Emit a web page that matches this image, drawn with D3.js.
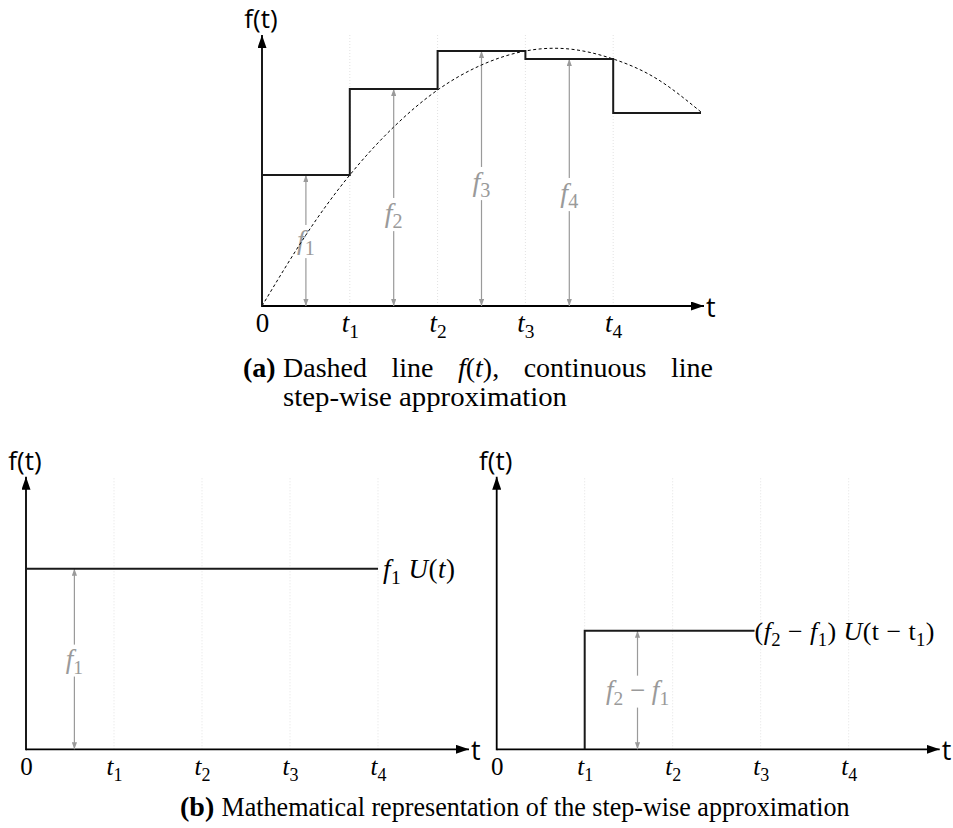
<!DOCTYPE html>
<html><head><meta charset="utf-8">
<script src="https://cdn.jsdelivr.net/npm/d3@7"></script>
<style>body{margin:0;background:#fff} svg{display:block}</style>
</head><body>
<svg id="c" width="953" height="828"></svg>
<script>
// ---------- data ----------
const tTicks = [0, 1, 2, 3, 4];
const tickLabels = ["0", "t_1", "t_2", "t_3", "t_4"];

// dashed curve f(t), read at half steps
const curveT = [0, 0.5, 1, 1.5, 2, 2.5, 3, 3.5, 4, 4.5, 5];
const curveF = [0, 0.71, 1.31, 1.79, 2.16, 2.41, 2.55, 2.57, 2.47, 2.27, 1.94];

// step-wise approximation (value holds until next t)
const stepT = [0, 1, 2, 3, 4, 5];
const stepF = [1.31, 2.17, 2.55, 2.47, 1.93, 1.93];

// grey measuring arrows in panel (a)
const arrowT = [0.5, 1.5, 2.5, 3.5];
const arrowF = [1.31, 2.17, 2.55, 2.47];
const arrowLabelF = [0.66, 0.93, 1.24, 1.13];
const arrowLabels = ["f_1", "f_2", "f_3", "f_4"];

// panel (b) left: f1 U(t)
const b1T = [0, 4];
const b1F = [1.31, 1.31];
const b1ArrowT = 0.55;
const b1ArrowF = 1.31;

// panel (b) right: (f2 - f1) U(t - t1)
const b2T = [1, 1, 2.93];
const b2F = [0, 0.86, 0.86];
const b2ArrowT = 1.6;
const b2ArrowF = 0.86;

// ---------- setup ----------
const svg = d3.select("#c");
const defs = svg.append("defs");
function marker(id, color, len, hw) {
  defs.append("marker").attr("id", id)
    .attr("viewBox", `0 ${-hw} ${len} ${2 * hw}`)
    .attr("refX", len).attr("refY", 0)
    .attr("markerWidth", len).attr("markerHeight", 2 * hw)
    .attr("markerUnits", "userSpaceOnUse")
    .attr("orient", "auto-start-reverse")
    .append("path").attr("d", `M0,${-hw}L${len},0L0,${hw}Z`).attr("fill", color);
}
marker("axArrow", "#000", 13, 4.5);
marker("gArrow", "#9a9a9a", 7, 2.6);

const SERIF = "'Liberation Serif', 'DejaVu Serif', serif";
const SANS = "'Open Sans', 'Noto Sans', sans-serif";
const GREY = "#9a9a9a";

// write math like "f_1" into a text selection
function mathText(sel, str, size) {
  sel.text(null);
  const parts = str.split("_");
  const base = parts[0];
  sel.append("tspan").attr("font-style", /^[0-9]/.test(base) ? "normal" : "italic").text(base);
  if (parts[1]) {
    sel.append("tspan").attr("font-style", "normal").attr("font-size", size * 0.72)
      .attr("dy", size * 0.22).text(parts[1]);
  }
}

// rich segments: [text, style] style: n normal, i italic, s subscript
function richText(sel, segs, size) {
  let shifted = false;
  segs.forEach(([txt, st]) => {
    const ts = sel.append("tspan").text(txt);
    if (st === "i") ts.attr("font-style", "italic");
    if (st === "s") {
      ts.attr("font-size", size * 0.72).attr("dy", size * 0.22);
      shifted = true;
    } else if (shifted) {
      ts.attr("dy", -size * 0.22);
      shifted = false;
    }
  });
}

function labelWithBg(g, x, yPos, str, size) {
  const t = g.append("text").attr("x", x).attr("y", yPos).attr("dy", "0.32em")
    .attr("text-anchor", "middle").attr("font-family", SERIF).attr("font-size", size)
    .attr("fill", GREY);
  if (Array.isArray(str)) richText(t, str, size); else mathText(t, str, size);
  const bb = t.node().getBBox();
  g.insert("rect", () => t.node()).attr("x", bb.x - 1).attr("y", bb.y + 1)
    .attr("width", bb.width + 2).attr("height", bb.height - 2).attr("fill", "#fff");
  return t;
}

function drawFrame(g, x, y, tickFont) {
  const y0 = y(0), yTop = y.range()[1];
  // faint grid
  g.append("g").selectAll("line").data(tTicks.filter(d => d > 0)).join("line")
    .attr("x1", d => x(d)).attr("x2", d => x(d))
    .attr("y1", y0).attr("y2", yTop)
    .attr("stroke", "#e2e2e2").attr("stroke-width", 1).attr("stroke-dasharray", "1,2");
  // tick labels via d3 axis
  const ax = g.append("g").attr("transform", `translate(0,${y0})`)
    .call(d3.axisBottom(x).tickValues(tTicks).tickSize(0).tickFormat(""));
  ax.select(".domain").remove();
  ax.attr("font-family", SERIF).attr("font-size", tickFont);
  ax.selectAll(".tick text").each(function (d, i) {
    const s = d3.select(this).attr("y", 26).attr("dy", 0).attr("fill", "#000");
    mathText(s, tickLabels[i], tickFont);
  });
  // axes with arrows
  g.append("line").attr("x1", x(0)).attr("x2", x(5) + 3).attr("y1", y0).attr("y2", y0)
    .attr("stroke", "#000").attr("stroke-width", 1.8).attr("marker-end", "url(#axArrow)");
  g.append("line").attr("x1", x(0)).attr("x2", x(0)).attr("y1", y0 + 0.9).attr("y2", yTop)
    .attr("stroke", "#000").attr("stroke-width", 1.8).attr("marker-end", "url(#axArrow)");
  g.append("text").attr("x", x(5) + 5).attr("y", y0 + 11)
    .attr("font-family", SANS).attr("font-size", 27).text("t");
  g.append("text").attr("x", x(0) - 1).attr("y", yTop - 7).attr("text-anchor", "middle")
    .attr("font-family", SANS).attr("font-size", 26).text("f(t)");
}

function greyArrow(g, x, y, t, f) {
  g.append("line").attr("x1", x(t)).attr("x2", x(t)).attr("y1", y(0)).attr("y2", y(f))
    .attr("stroke", GREY).attr("stroke-width", 1.2)
    .attr("marker-start", "url(#gArrow)").attr("marker-end", "url(#gArrow)");
}

// ---------- panel (a) ----------
{
  const x = d3.scaleLinear().domain([0, 5]).range([262, 701]);
  const y = d3.scaleLinear().domain([0, 2.71]).range([306, 35]);
  const g = svg.append("g");
  drawFrame(g, x, y, 27);

  const ag = g.append("g");
  arrowT.forEach((t, i) => greyArrow(ag, x, y, t, arrowF[i]));
  arrowT.forEach((t, i) => labelWithBg(ag, x(t), y(arrowLabelF[i]), arrowLabels[i], 28));

  g.append("path")
    .datum(curveT.map((t, i) => [t, curveF[i]]))
    .attr("d", d3.line().x(d => x(d[0])).y(d => y(d[1])).curve(d3.curveNatural))
    .attr("fill", "none").attr("stroke", "#000").attr("stroke-width", 1)
    .attr("stroke-dasharray", "3,2.5");

  const stepPts = [[0, 0]].concat(stepT.map((t, i) => [t, stepF[i]]));
  g.append("path").datum(stepPts)
    .attr("d", d3.line().x(d => x(d[0])).y(d => y(d[1])).curve(d3.curveStepAfter))
    .attr("fill", "none").attr("stroke", "#1a1a1a").attr("stroke-width", 2);
}

// ---------- panel (b) left ----------
{
  const x = d3.scaleLinear().domain([0, 5]).range([26, 466]);
  const y = d3.scaleLinear().domain([0, 1.977]).range([749.3, 476.7]);
  const g = svg.append("g");
  drawFrame(g, x, y, 25);
  greyArrow(g, x, y, b1ArrowT, b1ArrowF);
  labelWithBg(g, x(b1ArrowT), y(b1ArrowF / 2), "f_1", 27);
  g.append("path").datum(b1T.map((t, i) => [t, b1F[i]]))
    .attr("d", d3.line().x(d => x(d[0])).y(d => y(d[1])))
    .attr("fill", "none").attr("stroke", "#1a1a1a").attr("stroke-width", 2);
  const lt = g.append("text").attr("x", x(b1T[1]) + 5).attr("y", y(b1F[1]) + 9)
    .attr("font-family", SERIF).attr("font-size", 27).attr("fill", "#000")
    .attr("textLength", 72).attr("lengthAdjust", "spacing");
  richText(lt, [["f", "i"], ["1", "s"], [" ", "n"], ["U", "i"], ["(", "n"], ["t", "i"], [")", "n"]], 27);
}

// ---------- panel (b) right ----------
{
  const x = d3.scaleLinear().domain([0, 5]).range([496.7, 936.7]);
  const y = d3.scaleLinear().domain([0, 1.977]).range([749.3, 476.7]);
  const g = svg.append("g");
  drawFrame(g, x, y, 25);
  greyArrow(g, x, y, b2ArrowT, b2ArrowF);
  labelWithBg(g, x(b2ArrowT), y(b2ArrowF / 2),
    [["f", "i"], ["2", "s"], [" \u2212 ", "n"], ["f", "i"], ["1", "s"]], 27);
  g.append("path").datum(b2T.map((t, i) => [t, b2F[i]]))
    .attr("d", d3.line().x(d => x(d[0])).y(d => y(d[1])))
    .attr("fill", "none").attr("stroke", "#1a1a1a").attr("stroke-width", 2);
  const lt = g.append("text").attr("x", x(b2T[2])).attr("y", y(b2F[2]) + 9.5)
    .attr("font-family", SERIF).attr("font-size", 26).attr("fill", "#000")
    .attr("textLength", 180).attr("lengthAdjust", "spacing");
  richText(lt, [["(", "n"], ["f", "i"], ["2", "s"], [" \u2212 ", "n"], ["f", "i"], ["1", "s"],
    [") ", "n"], ["U", "i"], ["(t \u2212 t", "n"], ["1", "s"], [")", "n"]], 26);
}

// ---------- captions ----------
{
  const cg = svg.append("g").attr("font-family", SERIF).attr("font-size", 28).attr("fill", "#000");
  cg.append("text").attr("x", 243).attr("y", 376.5).attr("font-weight", "bold").text("(a)");
  const words = [
    [["Dashed", "n"]], [["line", "n"]],
    [["f", "i"], ["(", "n"], ["t", "i"], [")", "n"], [",", "n"]],
    [["continuous", "n"]], [["line", "n"]]
  ];
  const left = 283, right = 713;
  const nodes = words.map(w => {
    const t = cg.append("text").attr("y", 376.5);
    richText(t, w, 28);
    return t;
  });
  const widths = nodes.map(n => n.node().getComputedTextLength());
  const gap = (right - left - d3.sum(widths)) / (words.length - 1);
  let cx = left;
  nodes.forEach((n, i) => { n.attr("x", cx); cx += widths[i] + gap; });
  cg.append("text").attr("x", 283).attr("y", 405.5).attr("textLength", 284)
    .attr("lengthAdjust", "spacingAndGlyphs").text("step-wise approximation");

  cg.append("text").attr("x", 180).attr("y", 816).attr("font-weight", "bold").text("(b)");
  cg.append("text").attr("x", 221.5).attr("y", 816).attr("textLength", 628)
    .attr("lengthAdjust", "spacingAndGlyphs")
    .text("Mathematical representation of the step-wise approximation");
}
</script>
</body></html>
